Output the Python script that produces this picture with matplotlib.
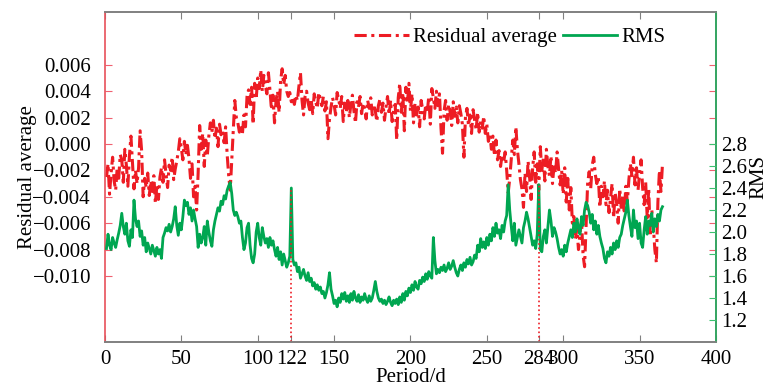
import matplotlib
matplotlib.use('Agg')
import matplotlib.pyplot as plt
import numpy as np

# residual average per day (units of 1e-3)
resid_milli = [
    -2.5, -1.5, -3.8, -2.2, -1.0, -2.8, -3.5, -1.8, -2.6, -0.8,
    -1.2, -2.9, -0.4, -1.6, -3.2, -0.9, 0.6, -1.4, -3.4, -2.0,
    -3.0, -1.8, 1.0, -0.5, -4.0, -2.6, -3.3, -2.2, -3.9, -2.8,
    -3.6, -2.4, -4.5, -3.1, -4.2, -2.5, -1.8, -2.9, -1.2, -2.3,
    -3.3, -1.6, -2.0, -1.0, -2.7, -1.9, -1.3, -0.6, 0.4, -0.3,
    -1.2, 0.2, -0.8, -0.1, -1.1, -2.6, -1.5, -4.0, -3.2, -5.0,
    -2.2, 1.4, -0.4, 0.8, -1.7, 0.3, -0.9, 0.6, 1.6, 0.9,
    1.8, 0.4, 1.2, -0.2, 1.5, 0.7, 1.0, 0.1, 1.3, -0.8,
    -2.4, -3.5, -1.2, 1.1, 3.3, 2.0, 1.6, 0.9, 1.4, 0.8,
    2.2, 1.3, 3.6, 4.1, 3.0, 4.3, 1.5, 4.6, 3.4, 5.0,
    4.2, 5.6, 4.0, 5.2, 4.4, 3.8, 5.4, 4.1, 2.6, 3.7,
    1.6, 3.3, 4.0, 2.4, 4.8, 5.7, 4.5, 5.2, 4.0, 3.6,
    3.9, 3.2, 3.5, 3.0, 3.7, 3.3, 4.4, 5.4, 3.3, 2.2,
    3.6, 4.0, 3.1, 2.6, 3.4, 2.3, 3.8, 3.2, 2.7, 3.9,
    3.4, 2.9, 3.6, 2.5, 3.2, 0.4, 1.9, 2.8, 3.5, 3.0,
    2.2, 3.9, 3.4, 2.7, 3.6, 1.7, 3.1, 2.4, 3.3, 2.0,
    3.0, 3.7, 2.5, 1.6, 3.2, 2.8, 3.6, 2.3, 3.1, 2.6,
    1.9, 3.3, 2.7, 3.5, 2.2, 3.0, 2.5, 1.7, 2.9, 3.4,
    2.4, 3.1, 1.8, 2.8, 3.6, 2.2, 3.3, 1.7, 2.6, 3.0,
    0.3, 3.5, 4.6, 2.4, 3.9, 1.0, 4.3, 3.1, 4.6, 2.5,
    3.8, 1.6, 3.1, 2.2, 2.8, 1.3, 3.3, 2.6, 1.9, 3.0,
    2.4, 3.6, 1.5, 4.2, 3.5, 2.7, 4.0, 2.9, 3.8, 1.2,
    -0.7, 2.5, 3.3, 1.8, 3.0, 2.4, 1.4, 3.2, 2.1, 2.8,
    1.6, 2.9, 2.3, 1.5, -1.0, 2.0, 2.7, 1.4, 2.2, 0.8,
    2.6, 1.8, 1.1, 2.4, 0.9, 1.7, 1.2, 2.1, 0.8, 1.5,
    0.2, 0.7, -0.4, 0.6, -0.9, 0.3, -1.2, -0.5, -1.7, -0.8,
    -1.4, -0.6, -2.0, -3.7, -2.6, -1.1, 0.3, -0.8, 1.3, -0.4,
    -1.5, -2.7, -3.4, -4.8, -2.2, -3.6, -1.3, -2.5, -4.2, -1.8,
    -0.6, -2.9, -1.5, -3.5, -0.2, -2.0, -1.1, -2.8, -0.4, -1.7,
    -2.4, -0.9, -3.0, -1.6, -2.2, -0.6, -1.9, -3.1, -2.0, -3.8,
    -1.8, -4.4, -2.6, -5.0, -3.3, -6.0, -5.5, -7.2, -6.4, -8.0,
    -6.8, -5.8, -8.4, -9.3, -6.2, -3.0, -2.1, -3.4, -1.6, -1.0,
    -2.3, -3.0, -2.5, -4.8, -3.2, -4.0, -2.8, -4.6, -3.5, -5.2,
    -4.1, -3.0, -5.6, -3.7, -4.5, -6.0, -3.4, -4.8, -3.9, -5.3,
    -3.2, -4.4, -2.7, -1.5, -2.4, -1.0, -3.1, -1.8, -3.5, -2.2,
    -1.2, -3.3, -4.6, -2.9, -5.6, -3.4, -7.0, -5.0, -6.2, -8.0,
    -9.0, -4.4, -2.0, -3.6, -1.5,
]

# RMS per day
rms = [
    1.85, 1.98, 1.88, 1.84, 1.95, 1.90, 1.86, 1.93, 1.99, 2.06,
    2.17, 2.05, 1.98, 2.08, 1.92, 1.87, 2.02, 1.95, 2.29, 2.12,
    2.05, 2.10, 1.96, 2.01, 1.88, 1.95, 1.82, 1.90, 1.85, 1.80,
    1.88, 1.83, 1.78, 1.86, 1.80, 1.84, 1.76, 1.95, 1.99, 2.04,
    2.01, 2.07, 2.00, 2.05, 2.12, 2.23, 2.06, 1.97, 2.08, 2.02,
    2.14, 2.29, 2.24, 2.27, 2.16, 2.22, 2.10, 2.20, 2.12, 2.05,
    1.86, 1.98, 1.90, 1.95, 2.05, 1.88, 2.10, 2.00, 1.92, 1.87,
    2.02, 2.10, 2.16, 2.22, 2.19, 2.28, 2.25, 2.33, 2.30, 2.38,
    2.42, 2.45, 2.35, 2.20, 2.15, 2.18, 2.14, 2.08, 2.10, 1.95,
    1.84, 1.90, 2.04, 2.08, 1.88, 1.76, 1.72, 1.80, 2.00, 2.08,
    1.95, 1.88, 2.04, 1.96, 1.90, 1.94, 1.86, 1.95, 1.88, 1.92,
    1.84, 1.78, 1.86, 1.75, 1.82, 1.70, 1.80, 1.74, 1.68, 1.72,
    1.78, 2.40, 1.75, 1.70, 1.72, 1.64, 1.68, 1.58, 1.62, 1.66,
    1.60, 1.56, 1.63, 1.55, 1.58, 1.51, 1.54, 1.48, 1.52, 1.47,
    1.50, 1.44, 1.46, 1.40, 1.45, 1.52, 1.63, 1.48, 1.42, 1.35,
    1.38, 1.32, 1.40, 1.36, 1.44, 1.39, 1.45, 1.37, 1.42, 1.36,
    1.44, 1.38, 1.46, 1.40, 1.37, 1.43, 1.36, 1.41, 1.38, 1.44,
    1.39, 1.36, 1.42, 1.37, 1.40, 1.47, 1.55, 1.46, 1.40, 1.37,
    1.39, 1.35, 1.38, 1.34, 1.37, 1.41, 1.36, 1.33, 1.38, 1.35,
    1.39, 1.34, 1.41, 1.36, 1.44, 1.38, 1.46, 1.42, 1.49, 1.45,
    1.52, 1.47, 1.55, 1.50, 1.48, 1.56, 1.53, 1.59, 1.55, 1.62,
    1.57, 1.64, 1.60, 1.58, 1.95, 1.74, 1.62, 1.66, 1.63, 1.68,
    1.65, 1.70, 1.64, 1.67, 1.72, 1.66, 1.69, 1.74, 1.68, 1.63,
    1.60, 1.66, 1.70, 1.65, 1.72, 1.68, 1.75, 1.71, 1.77, 1.70,
    1.73, 1.79, 1.76, 1.88, 1.82, 1.94, 1.86, 1.91, 1.85, 1.95,
    1.88, 1.98, 1.92, 2.04, 1.96, 2.08, 1.99, 2.02, 1.94, 2.06,
    2.00, 2.10, 2.15, 2.43, 2.20, 2.05, 1.92, 2.08, 1.88, 1.95,
    2.02, 1.96, 1.90, 2.04, 2.10, 2.18, 2.12, 2.04, 1.96, 1.88,
    1.92, 1.85, 1.98, 2.43, 1.84, 1.82, 1.96, 2.02, 1.90, 2.05,
    2.20, 2.10, 1.96, 2.04, 2.00, 1.94, 1.86, 1.80, 1.84, 1.78,
    1.88, 1.82, 1.90, 1.96, 2.02, 1.95, 2.08, 2.00, 2.12, 2.04,
    1.98, 2.14, 2.06, 2.20, 2.27, 2.24, 2.18, 2.08, 2.16, 2.02,
    2.10, 1.98, 2.06, 1.96, 1.90, 1.85, 1.76, 1.72, 1.82, 1.78,
    1.86, 1.80, 1.90, 1.84, 1.92, 1.86, 1.95, 1.98, 2.06, 2.12,
    2.18, 2.29, 2.15, 2.05, 1.96, 2.20, 2.04, 2.10, 1.94, 2.08,
    1.90, 1.86, 2.02, 2.14, 1.98, 2.10, 2.06, 2.17, 2.00, 2.12,
    2.05, 2.16, 2.10, 2.20, 2.23,
]

marked_days = [122, 284]
x_ticks = [0, 50, 100, 122, 150, 200, 250, 284, 300, 350, 400]
left_ticks = [-0.010, -0.008, -0.006, -0.004, -0.002, 0.000, 0.002, 0.004, 0.006]
right_ticks = [1.2, 1.4, 1.6, 1.8, 2.0, 2.2, 2.4, 2.6, 2.8]

red = '#ed1c24'
green = '#00a651'
grey = '#808080'

plt.rcParams['font.family'] = ['Liberation Serif', 'DejaVu Serif']
plt.rcParams['font.size'] = 15

days = np.arange(1, len(rms) + 1)
resid = np.array(resid_milli) * 1e-3
rms = np.array(rms)

fig = plt.figure(figsize=(7.69, 3.91), dpi=100)
ax = fig.add_axes([0.1365, 0.1253, 0.7945, 0.8440])
ax2 = ax.twinx()

l1, = ax.plot(days, resid, color=red, lw=2.2, linestyle=(0, (4, 1.5, 1, 1.5)))
l2, = ax2.plot(days, rms, color=green, lw=2)

# dotted markers from the bottom up to the RMS value of that day
for d in marked_days:
    ax2.vlines(d, 1.0, rms[d - 1], colors=red, linestyles=':', lw=1.2)

ax.set_xlim(0, 400)
ax.set_ylim(-0.015, 0.010)
ax2.set_ylim(1.0, 4.0)
ax.set_xticks(x_ticks)
ax.set_xticklabels([str(t) for t in x_ticks])
ax.set_yticks(left_ticks)
ax.set_yticklabels(['%.3f' % t if t >= 0 else '\u2212%.3f' % -t for t in left_ticks])
ax2.set_yticks(right_ticks)
ax2.set_yticklabels(['%.1f' % t for t in right_ticks])

ax.tick_params(axis='x', direction='in', top=True, length=5, color=grey, pad=6)
ax.tick_params(axis='y', direction='in', right=True, length=5, color='#f06070', pad=10)
ax2.tick_params(axis='y', direction='in', length=5, color='#3cc070', pad=4)

ax.spines['left'].set_color('#e8505a')
ax.spines['bottom'].set_color(grey)
ax.spines['top'].set_color(grey)
ax2.spines['right'].set_color('#3cc070')
ax2.spines['left'].set_visible(False)
ax2.spines['top'].set_color(grey)
ax2.spines['bottom'].set_color(grey)
for a in (ax, ax2):
    for s in a.spines.values():
        s.set_linewidth(1.2)

ax.set_xlabel('Period/d', labelpad=-1)
ax.set_ylabel('Residual average', labelpad=-3)
ax2.set_ylabel('RMS', labelpad=1.5)

fig.legend([l1, l2], ['Residual average', 'RMS'], loc='center',
           bbox_to_anchor=(0.663, 0.905), ncol=2, frameon=False,
           handlelength=2.6, handletextpad=0.2, columnspacing=0.3)

fig.savefig('out.png', dpi=100)
